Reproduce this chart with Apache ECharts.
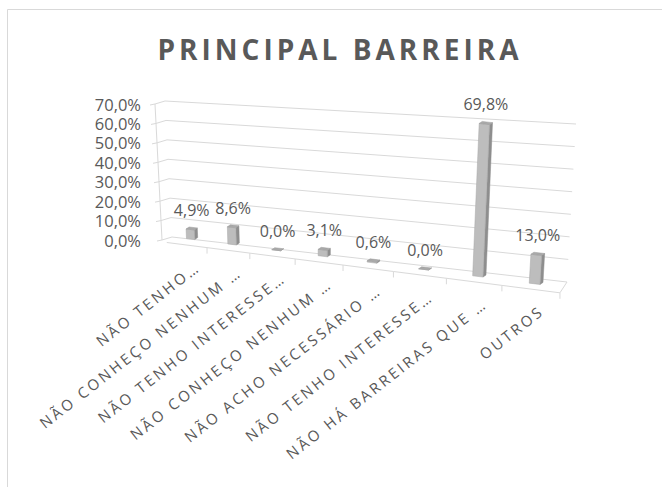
<!DOCTYPE html>
<html><head><meta charset="utf-8">
<script src="https://cdn.jsdelivr.net/npm/echarts@6/dist/echarts.min.js"></script>
<style>
html,body{margin:0;padding:0;background:#fff;}
#c{width:662px;height:487px;}
#c text[style*="15px"]{letter-spacing:2.8px;}
#c text[style*="28px"]{letter-spacing:4px;}
</style></head><body><div id="c"></div>
<script>
const chartTitle = 'PRINCIPAL BARREIRA';
const categories = ['NÃO TENHO…', 'NÃO CONHEÇO NENHUM …', 'NÃO TENHO INTERESSE…', 'NÃO CONHEÇO NENHUM …', 'NÃO ACHO NECESSÁRIO …', 'NÃO TENHO INTERESSE…', 'NÃO HÁ BARREIRAS QUE …', 'OUTROS'];
const values = [4.9, 8.6, 0.0, 3.1, 0.6, 0.0, 69.8, 13.0];
const yTicks = [0, 10, 20, 30, 40, 50, 60, 70];
const yMax = 70;

function pct(v){ return v.toFixed(1).replace('.', ',') + '%'; }

const GRID = '#d9d9d9', TXT = '#595959';

function frame(params){ const cs = params.coordSys; return {L: cs.x, T: cs.y, W: cs.width, H: cs.height, B: cs.y + cs.height}; }
// perspective warp of the category direction (front floor edge)
function floorX(g, u){ return g.L + g.W * (0.0093 + 0.766*u + 0.2*u*u); }
function floorY(g, x){ return g.B + 2 + 0.128*(x - g.L); }
function wallPts(g, f){
  const ax = g.L - 1 - 7*f, ay = g.B - g.H*f;
  const cx = ax + 10, cy = ay - 3;
  const rx = g.L + g.W - 3 + 9*f, ry = g.B + 42 - (g.H + 22)*f;
  return {ax, ay, cx, cy, rx, ry};
}

function renderWall(params, api){
  const g = frame(params);
  const p = api.coord([0, api.value(1)]);
  const f = (g.B - p[1]) / g.H;
  const w = wallPts(g, f);
  const children = [{type:'polyline', shape:{points:[[w.ax-5, w.ay+1],[w.ax, w.ay],[w.cx, w.cy],[w.rx, w.ry]]}, style:{stroke:GRID, lineWidth:1, fill:null}}];
  if (params.dataIndex === 0){
    const top = wallPts(g, 1);
    children.push({type:'line', shape:{x1:w.ax, y1:w.ay, x2:top.ax, y2:top.ay}, style:{stroke:GRID, lineWidth:1}});
  }
  return {type:'group', children};
}

function renderFloor(params, api){
  const g = frame(params);
  const n = categories.length;
  const p = api.coord([api.value(0), 0]);
  const u = (p[0] - g.L) / g.W;
  const u0 = u - 0.5/n, u1 = u + 0.5/n;
  const x0 = floorX(g, u0), x1 = floorX(g, u1);
  const children = [
    {type:'line', shape:{x1:x0, y1:floorY(g,x0), x2:x1, y2:floorY(g,x1)}, style:{stroke:GRID, lineWidth:1}},
    {type:'line', shape:{x1:x1, y1:floorY(g,x1), x2:x1, y2:floorY(g,x1)+6}, style:{stroke:GRID, lineWidth:1}}
  ];
  if (params.dataIndex === n - 1){
    const w = wallPts(g, 0);
    children.push({type:'line', shape:{x1:x1, y1:floorY(g,x1), x2:w.rx, y2:w.ry}, style:{stroke:GRID, lineWidth:1}});
  }
  return {type:'group', children};
}

function renderBar(params, api){
  const g = frame(params);
  const i = api.value(0), v = api.value(1);
  const p0 = api.coord([i, 0]), p1 = api.coord([i, v]);
  const u = (p0[0] - g.L) / g.W;
  const f = (p0[1] - p1[1]) / g.H;
  const xb = floorX(g, u) + 4;
  const t = (xb - g.L) / g.W;
  const yb = g.B - 4.5 + 0.13*(xb - g.L);
  const h = f*g.H*(1 + 0.16*t);
  const dx = f*(-7 + 17.5*t);
  const w = 8 + 3*t, k = 0.12;
  const bl = [xb - w/2, yb - k*w/2], br = [xb + w/2, yb + k*w/2];
  const tl = [bl[0] + dx, bl[1] - h], tr = [br[0] + dx, br[1] - h];
  const d = (q) => [q[0] + 3, q[1] - 2];
  const fy = floorY(g, xb);
  return {type:'group', children:[
    {type:'polygon', shape:{points:[br, d(br), d(tr), tr]}, style:{fill:'#8e8e8e', stroke:'#8a8a8a', lineWidth:0.5}},
    {type:'polygon', shape:{points:[bl, br, tr, tl]}, style:{fill:'#bdbdbd', stroke:'#a6a6a6', lineWidth:0.5}},
    {type:'polygon', shape:{points:[tl, tr, d(tr), d(tl)]}, style:{fill:'#a9a9a9', stroke:'#9a9a9a', lineWidth:0.5}},
    {type:'text', x:(tl[0] + tr[0])/2 + 1.5, y:tl[1] - 19, style:{text:pct(v), fill:TXT, fontSize:16, fontFamily:'Open Sans', align:'center', verticalAlign:'middle'}},
    {type:'text', x:xb + 7, y:fy + 19, rotation:38*Math.PI/180, style:{text:categories[i], fill:TXT, fontSize:15, fontFamily:'Open Sans', align:'right', verticalAlign:'middle'}}
  ]};
}

const chart = echarts.init(document.getElementById('c'), null, {renderer:'svg'});
chart.setOption({
  animation:false,
  backgroundColor:'#ffffff',
  graphic:[
    {type:'rect', z:0, shape:{x:7.5, y:9.5, width:700, height:600}, style:{fill:'none', stroke:GRID, lineWidth:1}},
    {type:'text', z:10, x:340, y:49, style:{text:chartTitle, fill:TXT, fontSize:28, fontWeight:'bold', fontFamily:'Open Sans', align:'center', verticalAlign:'middle'}}
  ],
  grid:{left:163, right:92, top:104, bottom:247},
  xAxis:{type:'category', data:categories, show:false},
  yAxis:{type:'value', min:0, max:yMax, interval:10,
    axisLine:{show:false}, axisTick:{show:false}, splitLine:{show:false},
    axisLabel:{formatter:(v)=>pct(v), color:TXT, fontSize:16.5, lineHeight:17, fontFamily:'Open Sans', margin:22}},
  series:[
    {type:'custom', name:'wall', silent:true, z:1, renderItem:renderWall, encode:{x:0, y:1}, data:yTicks.map(v=>[0, v])},
    {type:'custom', name:'floor', silent:true, z:2, renderItem:renderFloor, encode:{x:0, y:1}, data:categories.map((c, i)=>[i, 0])},
    {type:'custom', name:'PRINCIPAL BARREIRA', z:3, renderItem:renderBar, encode:{x:0, y:1}, data:values.map((v, i)=>[i, v])}
  ]
});
</script></body></html>
